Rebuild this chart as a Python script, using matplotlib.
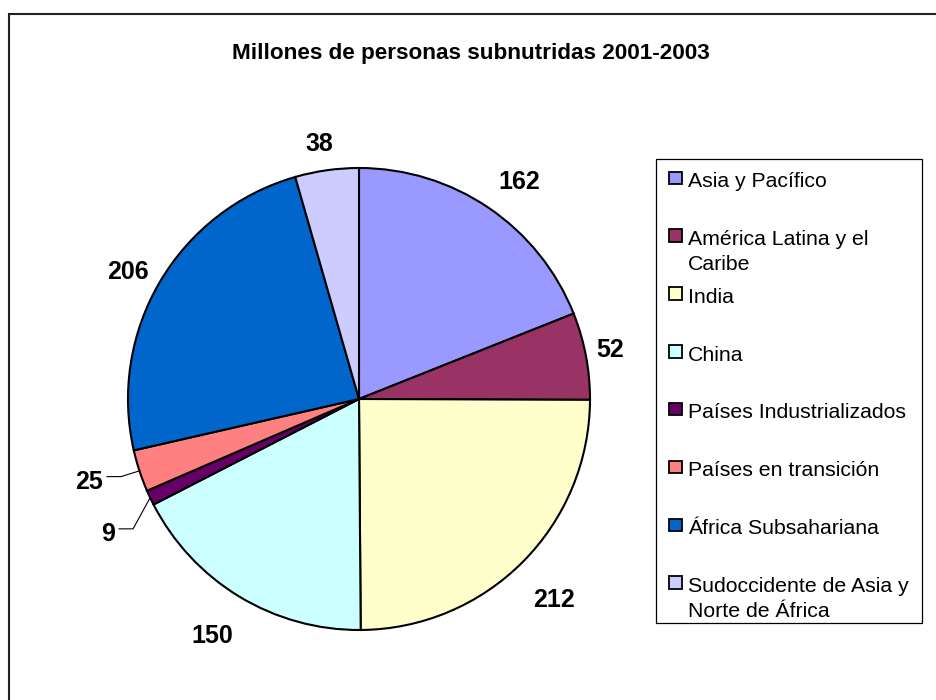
import matplotlib
matplotlib.use("Agg")
import matplotlib.pyplot as plt
from matplotlib.patches import Rectangle
import numpy as np

plt.rcParams['font.family'] = ['Liberation Sans', 'DejaVu Sans']

title = "Millones de personas subnutridas 2001-2003"
categories = ["Asia y Pacífico", "América Latina y el\nCaribe", "India", "China",
              "Países Industrializados", "Países en transición", "África Subsahariana",
              "Sudoccidente de Asia y\nNorte de África"]
values = [162, 52, 212, 150, 9, 25, 206, 38]
colors = ["#9999FF", "#993366", "#FFFFCC", "#CCFFFF", "#660066", "#FF8080", "#0066CC", "#CCCCFF"]
label_radius = [1.175, 1.11, 1.207, 1.2, 1.23, 1.22, 1.145, 1.125]
label_shift = [-2.1, 0.6, -0.7, -0.8, 2.7, -1.4, 1.3, 0.8]
leader = [False, False, False, False, True, True, False, False]

W, H = 936, 700
fig = plt.figure(figsize=(W / 100, H / 100), dpi=100)
ax = fig.add_axes([0, 0, 1, 1])
cx, cy, R = 359, H - 399, 231
wedges, _ = ax.pie(values, colors=colors, startangle=90, counterclock=False,
                   center=(cx, cy), radius=R,
                   wedgeprops=dict(edgecolor='black', linewidth=1.5))
ax.set_xlim(0, W)
ax.set_ylim(0, H)
ax.set_aspect('auto')
ax.axis('off')

# outer chart frame
ax.add_patch(Rectangle((8.5, -20), 1000, H - 14 + 20, fill=False,
                       edgecolor='#222222', linewidth=1.5))

# title
ax.text(471, H - 59, title, ha='center', va='baseline', fontsize=16.2,
        fontweight='bold')

# data labels
lab_fs = 18
cap = 0.716 * lab_fs * 100 / 72
texts = []
for w, v, k, sh, ld in zip(wedges, values, label_radius, label_shift, leader):
    mid = np.deg2rad((w.theta1 + w.theta2) / 2)
    la = mid + np.deg2rad(sh)
    x = cx + R * k * np.cos(la)
    y = cy + R * k * np.sin(la)
    t = ax.text(x, y - cap / 2, str(v), ha='center', va='baseline',
                fontsize=lab_fs, fontweight='bold')
    texts.append((t, mid, y, ld))

fig.canvas.draw()
for t, mid, y, ld in texts:
    if not ld:
        continue
    bb = t.get_window_extent()
    ex = cx + R * np.cos(mid)
    ey = cy + R * np.sin(mid)
    ly = y + 3.5
    ax.plot([bb.x1 + 4, bb.x1 + 18, ex], [ly, ly, ey], color='black', lw=0.8)

# legend
ax.add_patch(Rectangle((656, H - 623), 266, 464, facecolor='white',
                       edgecolor='black', linewidth=0.9))
base0, step, line_step = 187, 57.85, 25.5
for i, (c, col) in enumerate(zip(categories, colors)):
    b = base0 + i * step
    ax.add_patch(Rectangle((669, H - b + 3), 12.5, 12.5, facecolor=col,
                           edgecolor='black', linewidth=1.3))
    for j, line in enumerate(c.split("\n")):
        ax.text(688, H - b - j * line_step, line, ha='left', va='baseline',
                fontsize=15.3)

fig.savefig("out.png", dpi=100)
